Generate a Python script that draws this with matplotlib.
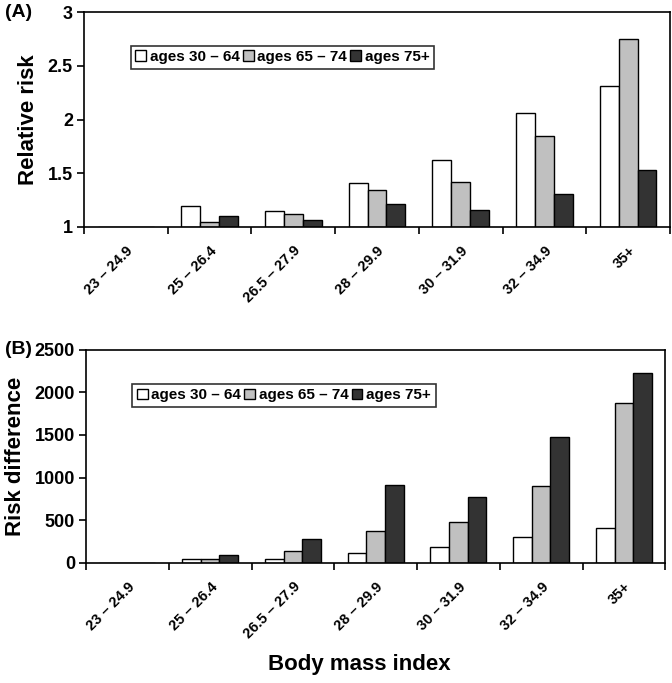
import numpy as np
import matplotlib.pyplot as plt
from matplotlib.ticker import FixedLocator, NullFormatter

plt.rcParams['font.family'] = ['Liberation Sans', 'DejaVu Sans']
plt.rcParams['font.weight'] = 'bold'

categories = ['23 – 24.9', '25 – 26.4', '26.5 – 27.9', '28 – 29.9', '30 – 31.9', '32 – 34.9', '35+']
series = ['ages 30 – 64', 'ages 65 – 74', 'ages 75+']
colors = ['white', '#c0c0c0', '#333333']

rr_30_64 = [1.0, 1.19, 1.15, 1.41, 1.62, 2.06, 2.31]
rr_65_74 = [1.0, 1.04, 1.12, 1.34, 1.42, 1.85, 2.75]
rr_75 = [1.0, 1.10, 1.06, 1.21, 1.16, 1.31, 1.53]

rd_30_64 = [0, 50, 40, 115, 185, 305, 410]
rd_65_74 = [0, 40, 135, 375, 475, 900, 1870]
rd_75 = [0, 95, 280, 915, 770, 1475, 2230]


def draw_panel(ax, data, ylabel, ylim, yticks, ylabels, base, legend_pos):
    x = np.arange(len(categories))
    w = 0.225
    for i, (vals, c, name) in enumerate(zip(data, colors, series)):
        heights = [v - base for v in vals]
        ax.bar(x + (i - 1) * w, heights, w, bottom=base, color=c,
               edgecolor='black', linewidth=1.0, label=name)
    ax.set_xlim(-0.5, len(categories) - 0.5)
    ax.set_ylim(*ylim)
    ax.set_yticks(yticks)
    ax.set_yticklabels(ylabels, fontsize=13, fontweight='bold')
    ax.set_xticks(x)
    ax.set_xticklabels(categories, rotation=45, ha='right', rotation_mode='anchor',
                       fontsize=10.5, fontweight='bold')
    ax.tick_params(axis='x', which='major', length=0, pad=12)
    ax.xaxis.set_minor_locator(FixedLocator(np.arange(len(categories) + 1) - 0.5))
    ax.xaxis.set_minor_formatter(NullFormatter())
    ax.tick_params(axis='x', which='minor', length=5, width=1.2, direction='out')
    ax.tick_params(axis='y', length=5, width=1.2, direction='out', pad=3)
    for s in ax.spines.values():
        s.set_linewidth(1.2)
    ax.set_ylabel(ylabel, fontsize=16, fontweight='bold', labelpad=6)
    leg = ax.legend(ncol=3, loc='upper left', bbox_to_anchor=legend_pos, fontsize=11,
                    frameon=True, fancybox=False, edgecolor='black', borderpad=0.3,
                    handlelength=0.7, handleheight=0.7, handletextpad=0.25,
                    columnspacing=0.2, borderaxespad=0)
    leg.get_frame().set_linewidth(1.2)
    for t in leg.get_texts():
        t.set_fontweight('bold')


fig = plt.figure(figsize=(6.72, 6.83), dpi=100)
ax1 = fig.add_axes([0.125, 0.668, 0.872, 0.314])
ax2 = fig.add_axes([0.128, 0.176, 0.862, 0.312])

draw_panel(ax1, [rr_30_64, rr_65_74, rr_75], 'Relative risk', (1, 3),
           [1, 1.5, 2, 2.5, 3], ['1', '1.5', '2', '2.5', '3'], 1.0, (0.08, 0.845))
draw_panel(ax2, [rd_30_64, rd_65_74, rd_75], 'Risk difference', (0, 2500),
           [0, 500, 1000, 1500, 2000, 2500], ['0', '500', '1000', '1500', '2000', '2500'],
           0, (0.08, 0.84))

fig.text(0.008, 0.982, '(A)', fontsize=14, fontweight='bold', va='center')
fig.text(0.008, 0.488, '(B)', fontsize=14, fontweight='bold', va='center')
fig.text(0.535, 0.027, 'Body mass index', fontsize=16, fontweight='bold', ha='center', va='center')

fig.savefig('out.png', dpi=100)
